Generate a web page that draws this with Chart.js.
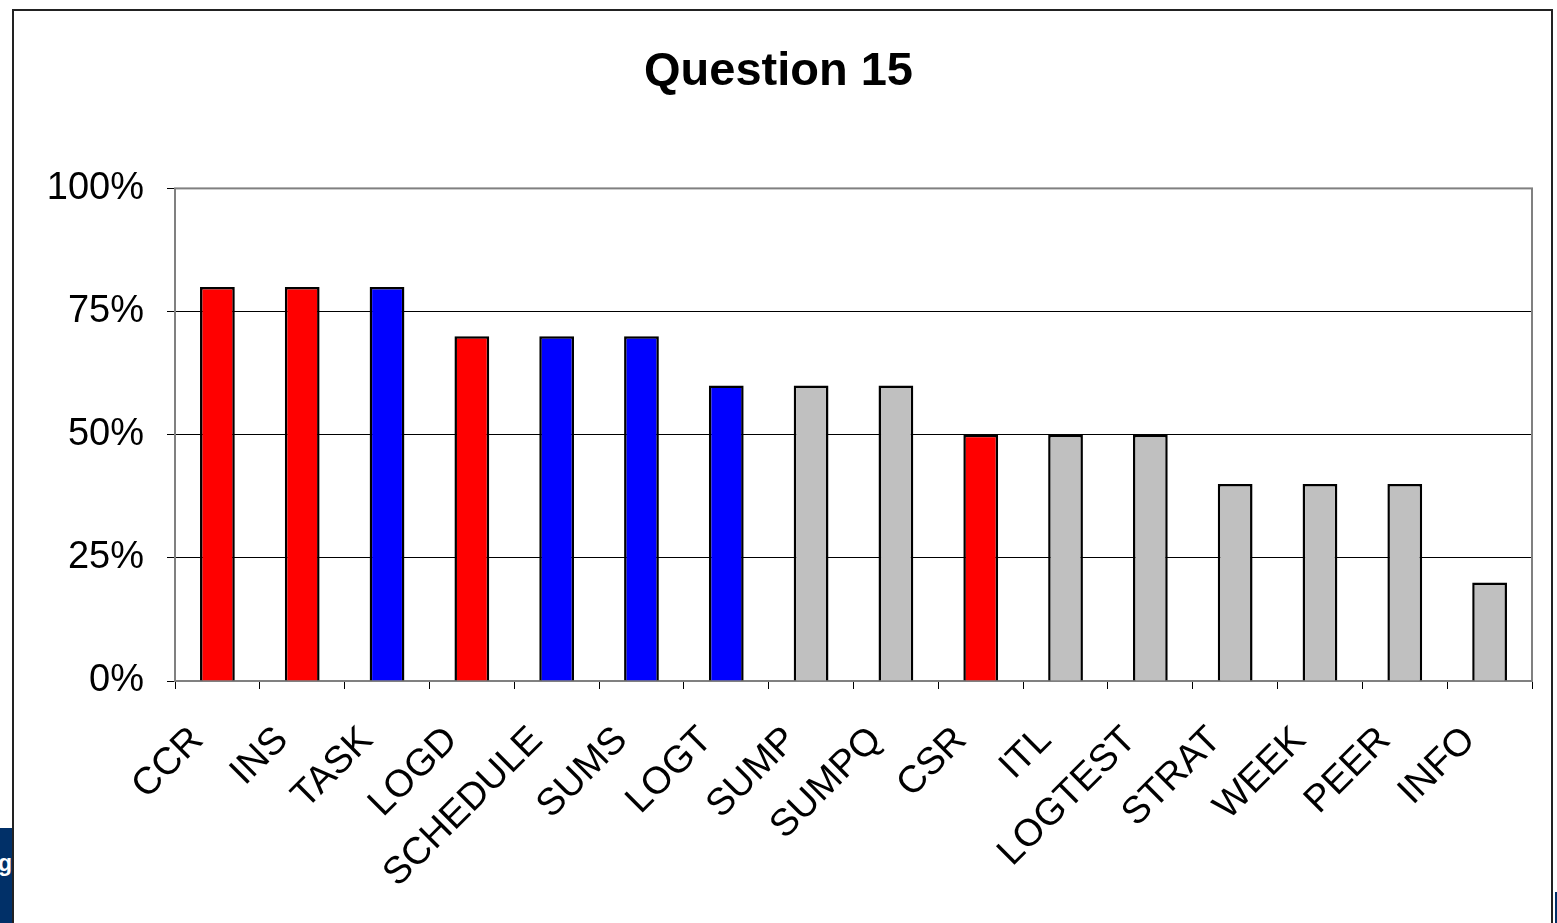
<!DOCTYPE html>
<html>
<head>
<meta charset="utf-8">
<script src="https://cdn.jsdelivr.net/npm/chart.js@4"></script>
<style>
  html, body { margin: 0; padding: 0; background: #fff; overflow: hidden; }
  body { width: 1557px; height: 923px; position: relative; }
  #frame { position: absolute; left: 12px; top: 9px; width: 1541px; height: 930px;
           border: 2px solid #222; box-sizing: border-box; }
  #wrap { position: absolute; left: 0; top: 0; width: 1557px; height: 923px; }
  #navyLeft { position: absolute; left: 0; top: 828px; width: 12px; height: 95px;
              background: #013068; overflow: hidden; }
  #navyLeft span { position: absolute; right: 0; top: 22px; color: #fff;
                   font: bold 23px "Liberation Sans", Arial, sans-serif; }
  #navyRight { position: absolute; left: 1555px; top: 892px; width: 2px; height: 31px; background: #013068; }
</style>
</head>
<body>
<div id="frame"></div>
<div id="wrap"><canvas id="chart" width="1557" height="923"></canvas></div>
<div id="navyLeft"><span>g</span></div>
<div id="navyRight"></div>
<script>
// values
var categories = ['CCR', 'INS', 'TASK', 'LOGD', 'SCHEDULE', 'SUMS', 'LOGT', 'SUMP', 'SUMPQ',
                  'CSR', 'ITL', 'LOGTEST', 'STRAT', 'WEEK', 'PEER', 'INFO'];
var percentages = [80, 80, 80, 70, 70, 70, 60, 60, 60, 50, 50, 50, 40, 40, 40, 20];
var groups = ['r', 'r', 'b', 'r', 'b', 'b', 'b', 'g', 'g', 'r', 'g', 'g', 'g', 'g', 'g', 'g'];
var yTicks = [0, 25, 50, 75, 100];

var palette = { r: '#FF0000', b: '#0000FF', g: '#C0C0C0' };
var FONT = '"Liberation Sans", Arial, sans-serif';

var plotBorder = {
  id: 'plotBorder',
  beforeDatasetsDraw: function(chart) {
    var a = chart.chartArea, ctx = chart.ctx;
    ctx.save();
    ctx.strokeStyle = '#808080';
    ctx.lineWidth = 2;
    ctx.strokeRect(a.left, a.top, a.right - a.left, a.bottom - a.top);
    ctx.restore();
  }
};

new Chart(document.getElementById('chart'), {
  type: 'bar',
  data: {
    labels: categories,
    datasets: [{
      data: percentages,
      backgroundColor: groups.map(function(g) { return palette[g]; }),
      borderColor: '#000',
      borderWidth: 2.5,
      barPercentage: 0.41,
      categoryPercentage: 1
    }]
  },
  options: {
    responsive: false,
    animation: false,
    layout: { padding: { left: 25, right: 25, top: 0, bottom: 0 } },
    plugins: {
      legend: { display: false },
      tooltip: { enabled: false },
      title: {
        display: true,
        text: 'Question 15',
        color: '#000',
        font: { family: FONT, size: 47, weight: 'bold' },
        padding: { top: 44, bottom: 88 }
      }
    },
    scales: {
      x: {
        offset: true,
        grid: { drawOnChartArea: false, offset: true, tickLength: 8, color: '#000', tickColor: '#000' },
        border: { color: '#000', width: 1 },
        ticks: {
          color: '#000',
          font: { family: FONT, size: 38 },
          minRotation: 45, maxRotation: 45,
          autoSkip: false,
          padding: 29,
          labelOffset: -20
        },
        afterFit: function(scale) { scale.height = 242; }
      },
      y: {
        min: 0, max: 100,
        afterBuildTicks: function(scale) {
          scale.ticks = yTicks.map(function(v) { return { value: v }; });
        },
        grid: {
          color: function(c) { return c.tick && c.tick.value === 100 ? '#808080' : '#000'; },
          tickColor: '#000',
          tickLength: 8,
          lineWidth: 1
        },
        border: { color: '#000', width: 1 },
        ticks: {
          color: '#000',
          font: { family: FONT, size: 38 },
          padding: 23,
          callback: function(v) { return v + '%'; }
        },
        afterFit: function(scale) { scale.width = 150; }
      }
    }
  },
  plugins: [plotBorder]
});
</script>
</body>
</html>
